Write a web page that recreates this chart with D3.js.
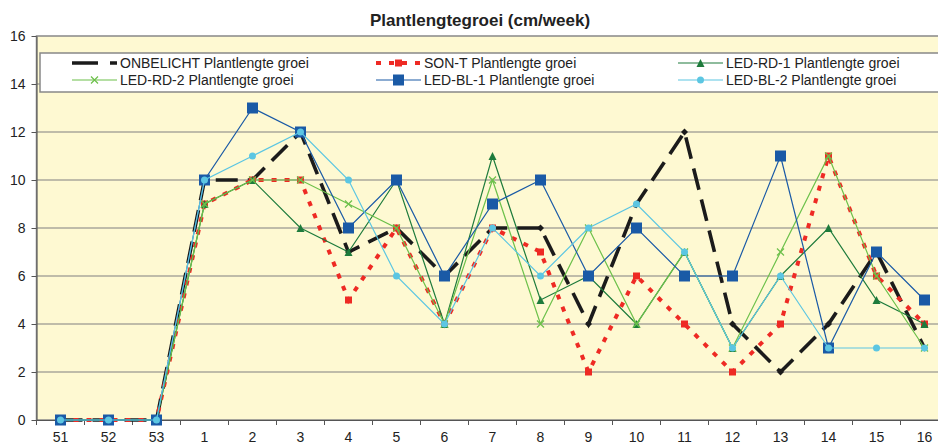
<!DOCTYPE html>
<html>
<head>
<title>Plantlengtegroei (cm/week)</title>
<script src="https://d3js.org/d3.v7.min.js"></script>
<style>
    body {margin: 0; background: white;}
    svg {display: block; font-family: "Liberation Sans", Arial, sans-serif;}
    .axis text {font-size: 14px; fill: #222;}
    .axis path, .axis line {stroke: #555;}
</style>
</head>
<body>
<svg width=938 height=446></svg>
<script>
var weeks = ["51","52","53","1","2","3","4","5","6","7","8","9","10","11","12","13","14","15","16"];
var yTicks = [0, 2, 4, 6, 8, 10, 12, 14, 16];

var onbelicht = [0,0,0,10,10,12,7,8,6,8,8,4,9,12,4,2,4,7,3];
var sonT      = [0,0,0,9,10,10,5,8,4,8,7,2,6,4,2,4,11,6,4];
var ledRd1    = [0,0,0,9,10,8,7,10,4,11,5,6,4,7,3,6,8,5,4];
var ledRd2    = [0,0,0,9,10,10,9,8,4,10,4,8,4,7,3,7,11,6,3];
var ledBl1    = [0,0,0,10,13,12,8,10,6,9,10,6,8,6,6,11,3,7,5];
var ledBl2    = [0,0,0,10,11,12,10,6,4,8,6,8,9,7,3,6,3,3,3];

var seriesNames = ["ONBELICHT Plantlengte groei", "SON-T Plantlengte groei", "LED-RD-1 Plantlengte groei",
                   "LED-RD-2 Plantlengte groei", "LED-BL-1 Plantlengte groei", "LED-BL-2 Plantlengte groei"];
var seriesValues = [onbelicht, sonT, ledRd1, ledRd2, ledBl1, ledBl2];

// style per series: colour, width, dash, marker
var styles = [
    {color: "#1b1b1b", width: 3.6, dash: "22,10", marker: "diamond", size: 7},
    {color: "#ee2a24", width: 4, dash: "5,8", marker: "square", size: 7},
    {color: "#1e7b3c", width: 1.2, dash: null, marker: "triangle", size: 8},
    {color: "#6cc04a", width: 1.2, dash: null, marker: "cross", size: 7},
    {color: "#1a5aa6", width: 1.2, dash: null, marker: "square", size: 11},
    {color: "#5cc6e2", width: 1.2, dash: null, marker: "circle", size: 7}
];

var svg = d3.select("svg");
var xs = d3.scaleBand().domain(weeks).range([36.5, 948.5]);
var ys = d3.scaleLinear().domain([0, 16]).range([420, 36]);

// plot background
svg.append("rect")
    .attr("x", xs.range()[0]).attr("y", ys(16))
    .attr("width", xs.range()[1] - xs.range()[0]).attr("height", ys(0) - ys(16))
    .attr("fill", "#fef9d2")
    .attr("stroke", "#888").attr("stroke-width", 1.5);

// gridlines
svg.append("g").selectAll("line")
    .data(yTicks.filter(function(d){return d > 0 && d < 16;}))
    .enter().append("line")
        .attr("x1", xs.range()[0]).attr("x2", xs.range()[1])
        .attr("y1", function(d){return ys(d);}).attr("y2", function(d){return ys(d);})
        .attr("stroke", "#808080").attr("stroke-width", 1.2);

// axes
svg.append("g")
    .attr("class", "axis")
    .attr("transform", "translate(" + xs.range()[0] + ",0)")
    .call(d3.axisLeft(ys).tickValues(yTicks).tickSize(5).tickPadding(6).tickSizeOuter(0));

var xAxis = svg.append("g")
    .attr("class", "axis")
    .attr("transform", "translate(0," + ys(0) + ")")
    .call(d3.axisBottom(xs).tickSize(0).tickSizeOuter(0));
xAxis.selectAll(".tick text").attr("y", 22).attr("dy", null);
// tick marks between categories
xAxis.selectAll("line.sep")
    .data(weeks)
    .enter().append("line")
        .attr("class", "sep")
        .attr("x1", function(d){return xs(d);}).attr("x2", function(d){return xs(d);})
        .attr("y1", 0).attr("y2", 5)
        .attr("stroke", "#555");

// title
svg.append("text")
    .attr("x", 480).attr("y", 26)
    .attr("text-anchor", "middle")
    .style("font-size", "17px").style("font-weight", "bold").style("fill", "#222")
    .text("Plantlengtegroei (cm/week)");

function drawMarker(g, type, size, color) {
    var s = size / 2;
    if (type == "diamond") {
        g.append("path").attr("d", "M0," + (-s) + "L" + s + ",0L0," + s + "L" + (-s) + ",0Z").attr("fill", color);
    } else if (type == "square") {
        g.append("rect").attr("x", -s).attr("y", -s).attr("width", size).attr("height", size).attr("fill", color);
    } else if (type == "triangle") {
        g.append("path").attr("d", "M0," + (-s) + "L" + s + "," + s + "L" + (-s) + "," + s + "Z").attr("fill", color);
    } else if (type == "cross") {
        g.append("path").attr("d", "M" + (-s) + "," + (-s) + "L" + s + "," + s + "M" + s + "," + (-s) + "L" + (-s) + "," + s)
            .attr("stroke", color).attr("stroke-width", 1.2).attr("fill", "none");
    } else if (type == "circle") {
        g.append("circle").attr("r", s).attr("fill", color);
    }
}

var line = d3.line()
    .x(function(d, i){return xs(weeks[i]) + xs.bandwidth() / 2;})
    .y(function(d){return ys(d);});

seriesValues.forEach(function(vals, k) {
    var st = styles[k];
    var g = svg.append("g");
    g.append("path")
        .datum(vals)
        .attr("fill", "none")
        .attr("stroke", st.color)
        .attr("stroke-width", st.width)
        .attr("stroke-dasharray", st.dash)
        .attr("d", line);
    g.selectAll("g.pt")
        .data(vals)
        .enter().append("g")
            .attr("class", "pt")
            .attr("transform", function(d, i){return "translate(" + (xs(weeks[i]) + xs.bandwidth() / 2) + "," + ys(d) + ")";})
            .each(function(){ drawMarker(d3.select(this), st.marker, st.size, st.color); });
});

// legend
svg.append("rect")
    .attr("x", 40).attr("y", 53).attr("width", 960).attr("height", 39)
    .attr("fill", "white").attr("stroke", "#888").attr("stroke-width", 1.5);

var legendCols = [72, 376, 678];
var legendRows = [63, 80];
seriesNames.forEach(function(name, k) {
    var st = styles[k];
    var lx = legendCols[k % 3];
    var ly = legendRows[Math.floor(k / 3)];
    var g = svg.append("g").attr("transform", "translate(" + lx + "," + ly + ")");
    g.append("line")
        .attr("x1", 0).attr("x2", 45).attr("y1", 0).attr("y2", 0)
        .attr("stroke", st.color).attr("stroke-width", st.width)
        .attr("stroke-dasharray", k == 0 ? "26,12" : st.dash);
    var m = g.append("g").attr("transform", "translate(22.5,0)");
    if (k > 0) drawMarker(m, st.marker, st.size, st.color);
    g.append("text")
        .attr("x", 48).attr("y", 5)
        .style("font-size", "14px").style("fill", "#222")
        .text(name);
});
</script>
</body>
</html>
